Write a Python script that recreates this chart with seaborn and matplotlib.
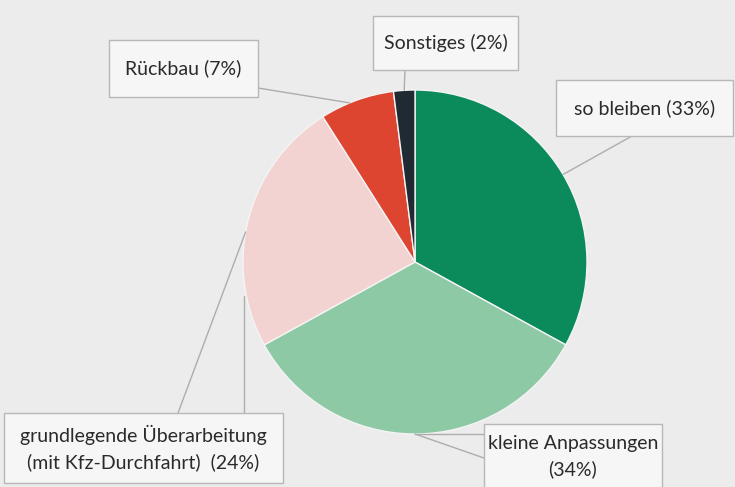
import matplotlib
matplotlib.use("Agg")
import matplotlib.pyplot as plt
import seaborn as sns
import numpy as np
from matplotlib.patches import Rectangle

# Data
labels = ["so bleiben", "kleine Anpassungen", "grundlegende Überarbeitung\n(mit Kfz-Durchfahrt)",
          "Rückbau", "Sonstiges"]
shares = [33, 34, 24, 7, 2]
colors = ["#0b8b5c", "#8dc9a5", "#f3d3d2", "#de4530", "#1f2a33"]

# label text, box (x0, y0, x1, y1) in pixels, anchor fraction inside the slice
label_texts = ["so bleiben (33%)", "kleine Anpassungen\n(34%)",
               "grundlegende Überarbeitung\n(mit Kfz-Durchfahrt)  (24%)",
               "Rückbau (7%)", "Sonstiges (2%)"]
boxes = [(556, 80, 733, 136), (484, 424, 662, 490), (4, 413, 283, 483),
         (109, 40, 258, 97), (373, 16, 518, 70)]
box_ends = [(632, 136), (484, 458), (178, 413), (258, 88), (405, 70)]
anchor_frac = [0.5, 0.5, 0.45, 0.4, 0.5]

sns.set_theme(style="white")
plt.rcParams["font.family"] = ["Lato", "DejaVu Sans"]

fig = plt.figure(figsize=(7.35, 4.87), dpi=100)
fig.patch.set_facecolor("#ececec")
ax = fig.add_axes([0, 0, 1, 1])
ax.set_facecolor("#ececec")

cx, cy, r = 415, 262, 172
wedges, _ = ax.pie(shares, colors=colors, center=(cx, cy), radius=r,
                   startangle=-90, counterclock=True,
                   wedgeprops=dict(edgecolor="#f4f4f4", linewidth=1.0))

ax.set_xlim(0, 735)
ax.set_ylim(487, 0)
ax.set_aspect("equal")
ax.axis("off")

line_col = "#adadad"
for w, txt, (x0, y0, x1, y1), be, f in zip(wedges, label_texts, boxes, box_ends, anchor_frac):
    ang = np.deg2rad(w.theta1 + f * (w.theta2 - w.theta1))
    px, py = cx + r * np.cos(ang), cy + r * np.sin(ang)
    ax.plot([be[0], px], [be[1], py], color=line_col, lw=1.0, zorder=3)
    ax.add_patch(Rectangle((x0, y0), x1 - x0, y1 - y0, facecolor="#f6f6f6",
                           edgecolor="#b8b8b8", lw=1.0, zorder=4))
    ax.text((x0 + x1) / 2, (y0 + y1) / 2, txt, ha="center", va="center",
            fontsize=14, color="#2a2a2a", linespacing=1.55, zorder=5)

# second connector of the lower-left label
w = wedges[2]
ang = np.deg2rad(w.theta1 + 0.2 * (w.theta2 - w.theta1))
ax.plot([244, 244], [413, cy + r * np.sin(ang)], color=line_col, lw=1.0, zorder=3)
# short horizontal connector at the pie bottom
ax.plot([cx, 484], [cy + r, cy + r], color=line_col, lw=1.0, zorder=3)

fig.savefig("out.png", dpi=100, facecolor=fig.get_facecolor())
